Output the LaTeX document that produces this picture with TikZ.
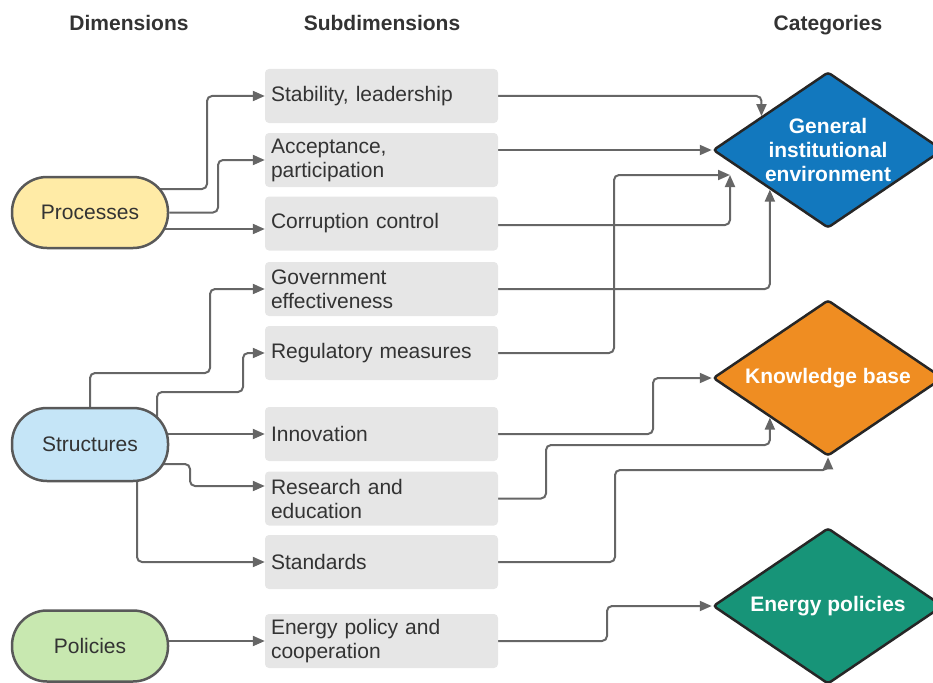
\documentclass[tikz,border=0pt]{standalone}
\usepackage{fontspec}
\setmainfont{Liberation Sans}
\usetikzlibrary{shapes.geometric,arrows.meta,backgrounds}

\definecolor{procfill}{HTML}{FFEBA6}
\definecolor{structfill}{HTML}{C5E5F7}
\definecolor{polfill}{HTML}{C8E8B0}
\definecolor{subfill}{HTML}{E6E6E6}
\definecolor{genfill}{HTML}{1278BE}
\definecolor{knowfill}{HTML}{EF8D22}
\definecolor{enfill}{HTML}{179478}
\definecolor{linkgray}{HTML}{666666}
\definecolor{textgray}{HTML}{333333}

\tikzset{
  heading/.style={text=textgray, text height=15pt, text depth=5pt,
    font=\bfseries\fontsize{21}{24}\selectfont},
  dimension/.style={draw=black!65, line width=2.5pt, rounded corners=35pt,
    minimum width=156pt, minimum height=71pt, text=textgray,
    font=\fontsize{21}{24}\selectfont},
  subbox/.style={fill=subfill, rounded corners=4pt, minimum width=233pt,
    minimum height=54pt, text width=221pt, inner xsep=6pt, inner ysep=3pt,
    align=left, text=textgray, font=\fontsize{21}{24}\selectfont},
  category/.style={diamond, aspect=1.47, draw=black!85, line width=2.5pt,
    rounded corners=3pt, minimum width=230pt, minimum height=156pt,
    inner sep=0pt, align=center, text=white,
    font=\bfseries\fontsize{21}{24}\selectfont},
  link/.style={draw=linkgray, line width=2pt, rounded corners=5pt,
    -{Triangle[length=12pt,width=10pt]}}
}

\begin{document}
\begin{tikzpicture}[x=1pt, y=-1pt]
    \useasboundingbox (0,0) rectangle (933,682);

    % Column headings
    \node[heading] (hdim) at (129,25.5) {Dimensions};
    \node[heading] (hsub) at (382,25.5) {Subdimensions};
    \node[heading] (hcat) at (828,25.5) {Categories};

    % Dimensions
    \node[dimension, fill=procfill] (proc) at (90,212.5) {Processes};
    \node[dimension, fill=structfill, minimum height=73pt] (struct) at (90,444.5) {Structures};
    \node[dimension, fill=polfill] (pol) at (90,646) {Policies};

    % Subdimensions
    \node[subbox] (sub1) at (381.5,96) {Stability, leadership};
    \node[subbox] (sub2) at (381.5,160) {Acceptance,\\participation};
    \node[subbox] (sub3) at (381.5,223.5) {Corruption control};
    \node[subbox] (sub4) at (381.5,289) {Government\\effectiveness};
    \node[subbox] (sub5) at (381.5,353) {Regulatory measures};
    \node[subbox] (sub6) at (381.5,434) {Innovation};
    \node[subbox] (sub7) at (381.5,498.5) {Research and\\education};
    \node[subbox] (sub8) at (381.5,562) {Standards};
    \node[subbox] (sub9) at (381.5,641) {Energy policy and\\cooperation};

    % Categories
    \node[category, fill=genfill] (gen) at (828,150) {General\\institutional\\environment};
    \node[category, fill=knowfill] (know) at (828,378) {Knowledge base};
    \node[category, fill=enfill] (en) at (828,606) {Energy policies};
    \coordinate (genin) at (730,175);

    \begin{scope}[on background layer]
    % Processes
    \draw[link] (proc.center |- 0,189) -| (207,96) -- (sub1.west);
    \draw[link] (proc.east) -| (218,160) -- (sub2.west);
    \draw[link] (proc.center |- 0,229) -- (sub3.west |- 0,229);

    % Structures
    \draw[link] (struct.north) |- (210,373) |- (sub4.west);
    \draw[link] (struct.center -| 157,0) |- (243,392) |- (sub5.west);
    \draw[link] (struct.center |- sub6.west) -- (sub6.west);
    \draw[link] (struct.center |- 0,464) -| (190,486) -- (sub7.west |- 0,486);
    \draw[link] (struct.center -| 137,0) |- (sub8.west);

    % Policies
    \draw[link] (pol.center |- sub9.west) -- (sub9.west);

    % Subdimensions to categories
    \draw[link] (sub1.east) -| (gen.153);
    \draw[link] (sub2.east |- gen.west) -- (gen.west);
    \draw[link] (sub3.east |- 0,225) -| (genin);
    \draw[link] (sub4.east) -| (gen.south west);
    \draw[link] (sub5.east) -| (614,175) -- (genin);
    \draw[link] (sub6.east) -| (653,378) -- (know.west);
    \draw[link] (sub7.east) -| (546,445) -| (know.south west);
    \draw[link] (sub8.east) -| (615,470) -| (know.south);
    \draw[link] (sub9.east) -| (607,606) -- (en.west);
    \end{scope}
\end{tikzpicture}
\end{document}
